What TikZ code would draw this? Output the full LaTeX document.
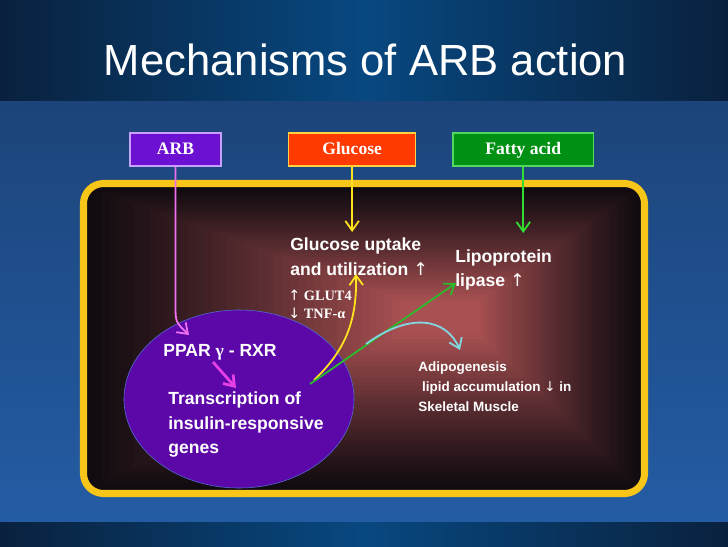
\documentclass[tikz,border=0pt]{standalone}
\usepackage{fontspec}
\setmainfont{Liberation Sans}
\newfontfamily\serifa{Liberation Serif}
\newfontfamily\flechas{DejaVu Sans}
\usetikzlibrary{positioning,arrows.meta,shapes.geometric}
\definecolor{azulosc}{RGB}{9,33,62}
\definecolor{azulmed}{RGB}{8,72,128}
\definecolor{azularr}{RGB}{28,68,122}
\definecolor{azulab}{RGB}{36,92,164}
\definecolor{marco}{RGB}{247,198,24}
\definecolor{fondo}{RGB}{16,11,16}
\definecolor{brillo}{RGB}{168,80,82}
\definecolor{morado}{RGB}{92,8,168}
\definecolor{bordemorado}{RGB}{80,110,210}
\definecolor{arbcol}{RGB}{108,16,210}
\definecolor{arbborde}{RGB}{200,160,255}
\definecolor{glucol}{RGB}{255,58,0}
\definecolor{glucborde}{RGB}{255,208,64}
\definecolor{grasacol}{RGB}{0,145,20}
\definecolor{grasaborde}{RGB}{80,216,96}
\definecolor{rosa}{RGB}{240,110,240}
\definecolor{magenta2}{RGB}{228,64,228}
\definecolor{amarillo}{RGB}{255,226,30}
\definecolor{verde}{RGB}{50,220,50}
\definecolor{celeste}{RGB}{130,215,225}
\tikzset{caja/.style={draw, line width=0.4mm, minimum height=8.25mm, text height=1.6ex, text depth=0.3ex, text=white, font=\serifa\bfseries\fontsize{12.5}{14}\selectfont}}
\tikzset{rotulo/.style={text=white, align=left, inner sep=0pt, anchor=west, font=\bfseries\fontsize{12.5}{17.5}\selectfont}}
\tikzset{via/.style={line width=0.45mm, -{Straight Barb[length=2.4mm,width=3.4mm]}}}
\newcommand{\sube}{{\flechas\mdseries ↑}}
\newcommand{\baja}{{\flechas\mdseries ↓}}

\begin{document}
\begin{tikzpicture}[x=0.025cm, y=-0.025cm]
            \useasboundingbox (0,0) rectangle (728,546);
            % fondo
            \shade[left color=azulosc, right color=azulosc, middle color=azulmed] (0,0) rectangle (728,101);
            \shade[top color=azularr, bottom color=azulab] (0,101) rectangle (728,522);
            \shade[left color=azulosc, right color=azulosc, middle color=azulmed] (0,522) rectangle (728,546);
            \node[text=white, anchor=west, font=\fontsize{31}{36}\selectfont] (titulo) at (99,60) {Mechanisms of ARB action};

            % celula
            \fill[fondo, rounded corners=5mm] (84,184) rectangle (644,494);
            \begin{scope}
                \clip[rounded corners=4.5mm] (86,186) rectangle (642,491);
                \foreach \i in {0,...,40}{
                    \pgfmathsetmacro\p{100*(\i/40)^1.15}
                    \fill[brillo!\p!fondo] ({86+\i*7.85},{186+\i*2.85}) rectangle ({642-\i*4.05},{491-\i*3.9});
                }
            \end{scope}
            \draw[marco, line width=5pt, rounded corners=5mm] (83.5,183.5) rectangle (644.5,493.5);

            % cajas
            \node[caja, fill=arbcol, draw=arbborde, minimum width=22.75mm] (arb) at (175.5,149.5) {ARB};
            \node[caja, fill=glucol, draw=glucborde, minimum width=31.75mm, right=16.5mm of arb] (glucosa) {Glucose};
            \node[caja, fill=grasacol, draw=grasaborde, minimum width=35mm, right=9mm of glucosa] (grasa) {Fatty acid};

            % nucleo
            \node[ellipse, fill=morado, draw=bordemorado, minimum width=57.5mm, minimum height=44.5mm, inner sep=0pt] (nucleo) at (239,399) {};

            % textos
            \node[rotulo] (captacion) at (290,256.5) {Glucose uptake\\and utilization \sube};
            \node[rotulo] (lipasa) at (455,270) {Lipoprotein\\lipase \sube};
            \node[rotulo, font=\serifa\bfseries\fontsize{10.2}{12.8}\selectfont] (glut) at (288,304) {\sube\ GLUT4\\\baja\ TNF-α};
            \node[rotulo] (ppar) at (163,352) {PPAR {\serifa γ} - RXR};
            \node[rotulo] (transcripcion) at (168,424.5) {Transcription of\\insulin-responsive\\genes};
            \node[rotulo, font=\bfseries\fontsize{9.6}{14}\selectfont] (adipo) at (418,386.5) {Adipogenesis\\\ lipid accumulation \baja\ in\\Skeletal Muscle};

            % puntos
            \coordinate (puntaarb) at (189,335);
            \coordinate (puntaamarilla) at (352,232);
            \coordinate (puntaverde) at (518,233);
            \coordinate (salida) at (314,380);
            \coordinate (puntaglucosa) at (356,274);
            \coordinate (salida2) at (310,384);
            \coordinate (puntalipasa) at (456,283);
            \coordinate (salida3) at (366,344);
            \coordinate (puntaadipo) at (460,350);
            \coordinate (pparsal) at (213,362);
            \coordinate (puntatrans) at (236,388);

            % flechas
            \draw[via, rosa] (arb.south) -- (175.5,305) .. controls (175.5,322) .. (puntaarb);
            \draw[via, amarillo] (glucosa.south) -- (glucosa.south |- puntaamarilla);
            \draw[via, verde] (grasa.south) -- (grasa.south |- puntaverde);
            \draw[via, amarillo] (salida) .. controls (346,350) and (357,320) .. (puntaglucosa);
            \draw[via, verde!85!black] (salida2) -- (puntalipasa);
            \draw[via, celeste] (salida3) .. controls (410,312) and (446,318) .. (puntaadipo);
            \draw[via, magenta2, line width=0.7mm] (pparsal) -- (puntatrans);
        \end{tikzpicture}
\end{document}
